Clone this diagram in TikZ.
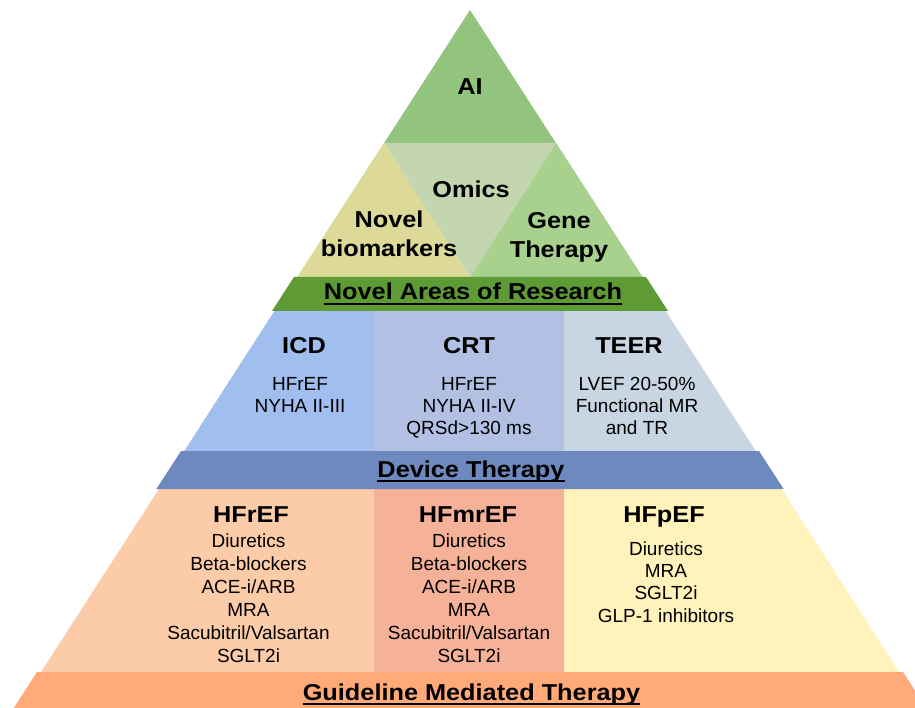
\documentclass[tikz,border=0pt]{standalone}
\usepackage{fontspec}
\setmainfont{Liberation Sans}[BoldFeatures={FakeStretch=1.1}]
\definecolor{cAI}{HTML}{93C47D}
\definecolor{cBio}{HTML}{DDD999}
\definecolor{cOmics}{HTML}{C3D6AF}
\definecolor{cGene}{HTML}{A8D18D}
\definecolor{cNovel}{HTML}{5E9B35}
\definecolor{cICD}{HTML}{A0BEEE}
\definecolor{cCRT}{HTML}{B2C0E4}
\definecolor{cTEER}{HTML}{C8D6E4}
\definecolor{cDev}{HTML}{6E89C0}
\definecolor{cHFr}{HTML}{FCCCA8}
\definecolor{cHFmr}{HTML}{F6B298}
\definecolor{cHFp}{HTML}{FFF2BA}
\definecolor{cGMT}{HTML}{FFAA78}
\begin{document}
\begin{tikzpicture}[x=1pt,y=-1pt,
  ttl/.style={font=\bfseries\fontsize{23}{29}\selectfont, anchor=base, inner sep=0pt, align=center},
  bandlbl/.style={font=\bfseries\fontsize{23}{28}\selectfont, anchor=base, inner sep=0pt},
  sub/.style={font=\fontsize{19}{22}\selectfont, anchor=base, inner sep=0pt, align=center},
  lst/.style={font=\fontsize{19}{23}\selectfont, anchor=base, inner sep=0pt, align=center},
  lstp/.style={font=\fontsize{19}{22.3}\selectfont, anchor=base, inner sep=0pt, align=center},
  uline/.style={line width=2pt}]
\useasboundingbox (0,0) rectangle (915,708);
\clip (0,0) rectangle (915,708);
% top section
\fill[cAI] (470,10) -- (383.8,143.5) -- (556.2,143.5) -- cycle;
\fill[cOmics] (383.8,143) -- (556.2,143) -- (470,277.5) -- cycle;
\fill[cBio] (383.8,143) -- (297,277.5) -- (470,277.5) -- cycle;
\fill[cGene] (556.2,143) -- (470,277.5) -- (643,277.5) -- cycle;
% device tier
\fill[cICD] (275,310) -- (374.5,310) -- (374.5,452) -- (183.6,452) -- cycle;
\fill[cCRT] (374,310) -- (564.5,310) -- (564.5,452) -- (374,452) -- cycle;
\fill[cTEER] (564,310) -- (665,310) -- (756.4,452) -- (564,452) -- cycle;
% bottom tier
\fill[cHFr] (159.6,488) -- (374.5,488) -- (374.5,673) -- (40.4,673) -- cycle;
\fill[cHFmr] (374,488) -- (564.5,488) -- (564.5,673) -- (374,673) -- cycle;
\fill[cHFp] (564,488) -- (781,488) -- (899.6,673) -- (564,673) -- cycle;
% bands
\fill[cNovel] (294,277) -- (646,277) -- (668,311) -- (272,311) -- cycle;
\fill[cDev] (181,451) -- (759,451) -- (783.6,489) -- (156.4,489) -- cycle;
\fill[cGMT] (37,672) -- (903,672) -- (934,720) -- (6,720) -- cycle;
% texts (base anchor = baseline of the last line)
\node[ttl] (ai) at (470,95) {AI};
\node[ttl] (omics) at (471,198) {Omics};
\node[ttl] (bio) at (389,257) {Novel\\biomarkers};
\node[ttl] (gene) at (559,258) {Gene\\Therapy};
\node[bandlbl] (novel) at (473,300) {Novel Areas of Research};
\draw[uline] ([yshift=-4pt]novel.base west) -- ([yshift=-4pt]novel.base east);
\node[ttl] (icd) at (304,353) {ICD};
\node[ttl] (crt) at (469,353) {CRT};
\node[ttl] (teer) at (629,353) {TEER};
\node[sub] (icdsub) at (300,412) {HFrEF\\NYHA II-III};
\node[sub] (crtsub) at (469,434) {HFrEF\\NYHA II-IV\\QRSd>130 ms};
\node[sub] (teersub) at (637,434) {LVEF 20-50\%\\Functional MR\\and TR};
\node[bandlbl] (dev) at (471,477) {Device Therapy};
\draw[uline] ([yshift=-4pt]dev.base west) -- ([yshift=-4pt]dev.base east);
\node[ttl] (hfr) at (251,522) {HFrEF};
\node[ttl] (hfmr) at (468,522) {HFmrEF};
\node[ttl] (hfp) at (664,522) {HFpEF};
\node[lst] (hfrl) at (248.5,662) {Diuretics\\Beta-blockers\\ACE-i/ARB\\MRA\\Sacubitril/Valsartan\\SGLT2i};
\node[lst] (hfmrl) at (469,662) {Diuretics\\Beta-blockers\\ACE-i/ARB\\MRA\\Sacubitril/Valsartan\\SGLT2i};
\node[lstp] (hfpl) at (666,622) {Diuretics\\MRA\\SGLT2i\\GLP-1 inhibitors};
\node[bandlbl] (gmt) at (471.5,700) {Guideline Mediated Therapy};
\draw[uline] ([yshift=-4pt]gmt.base west) -- ([yshift=-4pt]gmt.base east);
\end{tikzpicture}
\end{document}
